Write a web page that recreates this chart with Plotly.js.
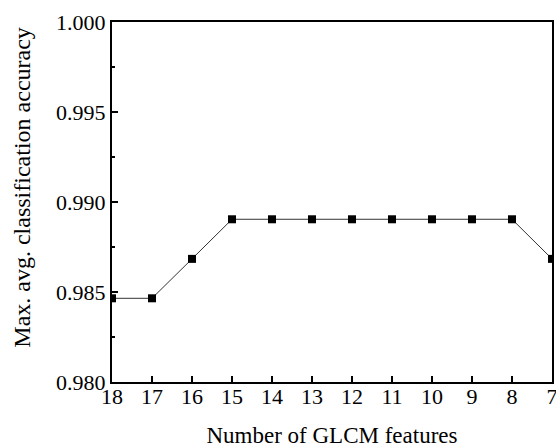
<!DOCTYPE html>
<html>
<head>
<meta charset="utf-8">
<script src="https://cdn.plot.ly/plotly-3.0.1.min.js"></script>
<style>
  html, body { margin: 0; padding: 0; background: #fff; }
  #chart { width: 556px; height: 448px; }
</style>
</head>
<body>
<div id="chart"></div>
<script>
const numFeatures = [18, 17, 16, 15, 14, 13, 12, 11, 10, 9, 8, 7];
const maxAvgAccuracy = [0.98465, 0.98465, 0.98684, 0.98904, 0.98904, 0.98904, 0.98904, 0.98904, 0.98904, 0.98904, 0.98904, 0.98684];
const yTickVals = [0.980, 0.985, 0.990, 0.995, 1.000];
const yTickText = ['0.980', '0.985', '0.990', '0.995', '1.000'];

const font = 'Liberation Serif';

const trace = {
  x: numFeatures,
  y: maxAvgAccuracy,
  mode: 'lines+markers',
  type: 'scatter',
  line: { color: '#333', width: 1 },
  marker: { symbol: 'square', size: 8, color: '#000' },
  showlegend: false
};

const layout = {
  width: 556,
  height: 448,
  margin: { l: 112, r: 4, t: 22, b: 66 },
  paper_bgcolor: '#fff',
  plot_bgcolor: '#fff',
  font: { family: font, size: 21, color: '#000' },
  xaxis: {
    range: [18, 7],
    tickmode: 'array',
    tickvals: numFeatures,
    ticktext: numFeatures.map(String),
    ticks: 'inside',
    ticklen: 6,
    tickwidth: 2,
    tickcolor: '#000',
    showline: true,
    linewidth: 2,
    linecolor: '#000',
    mirror: true,
    showgrid: false,
    zeroline: false,
    ticklabeloverflow: 'allow',
    ticklabelstandoff: -6,
    tickfont: { family: font, size: 22, color: '#000' },
    title: { text: 'Number of GLCM features', font: { family: font, size: 23, color: '#000' }, standoff: 18 }
  },
  yaxis: {
    range: [0.980, 1.000],
    tickmode: 'array',
    tickvals: yTickVals,
    ticktext: yTickText,
    ticks: 'inside',
    ticklen: 6,
    tickwidth: 2,
    tickcolor: '#000',
    minor: { dtick: 0.0025, ticks: 'inside', ticklen: 3, tickwidth: 2, tickcolor: '#000', showgrid: false },
    showline: true,
    linewidth: 2,
    linecolor: '#000',
    mirror: true,
    showgrid: false,
    zeroline: false,
    ticklabeloverflow: 'allow',
    ticklabelstandoff: 0,
    tickfont: { family: font, size: 22, color: '#000' }
  },
  annotations: [{
    text: 'Max. avg. classification accuracy',
    xref: 'paper', yref: 'paper',
    x: -0.205, y: 0.542,
    xanchor: 'center', yanchor: 'middle',
    textangle: -90,
    showarrow: false,
    font: { family: font, size: 24, color: '#000' }
  }]
};

Plotly.newPlot('chart', [trace], layout, { displayModeBar: false, staticPlot: true });
</script>
</body>
</html>
